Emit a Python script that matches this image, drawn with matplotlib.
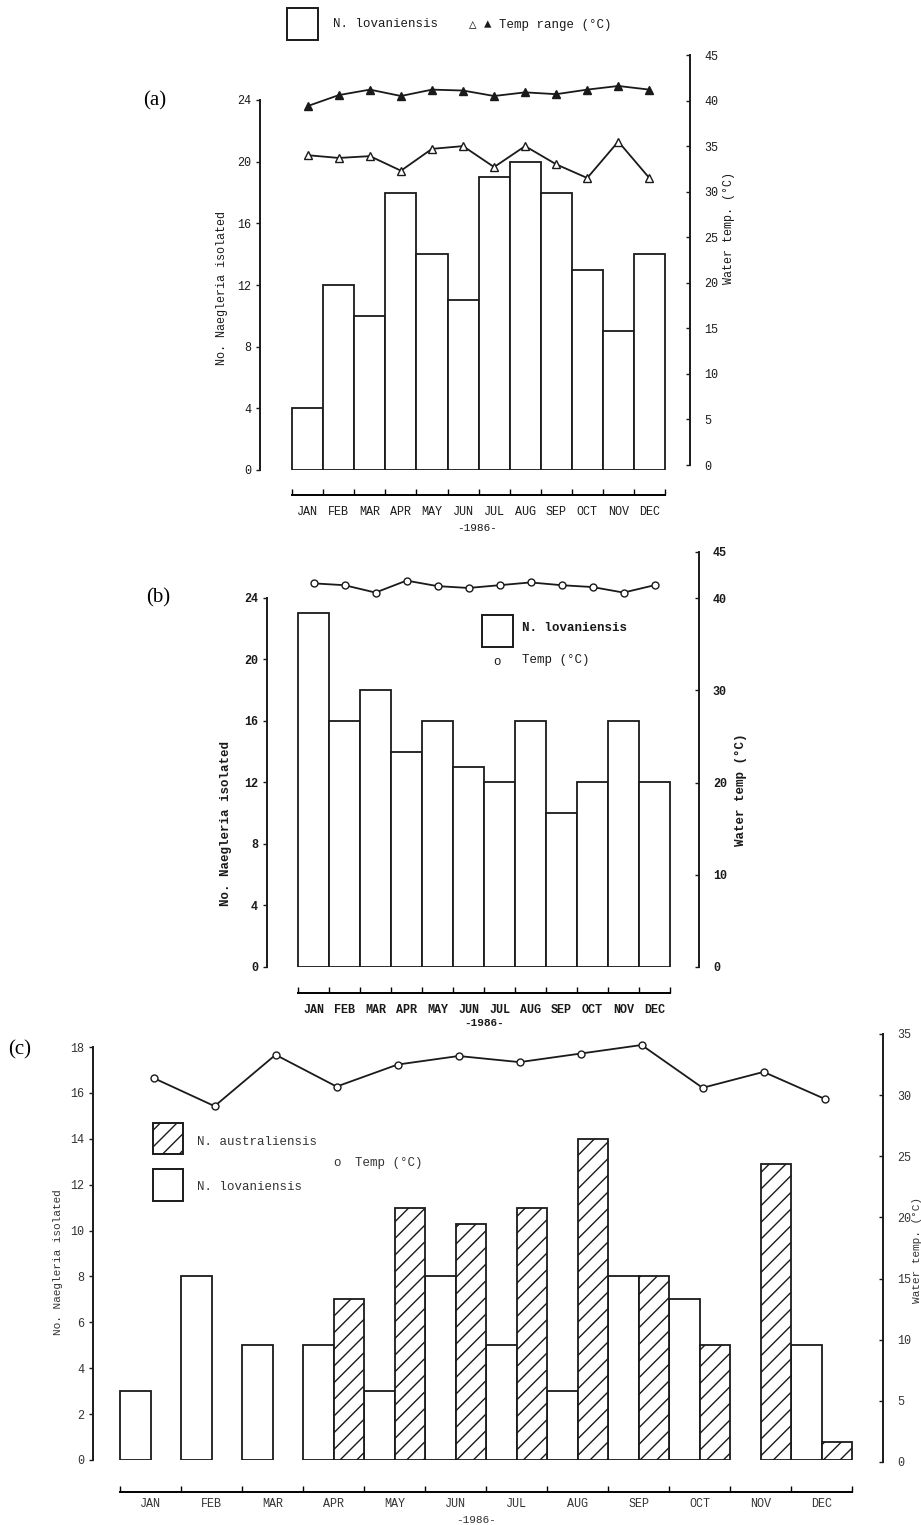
#!/usr/bin/env python3
import numpy as np
import matplotlib
matplotlib.use("Agg")
import matplotlib.pyplot as plt
from matplotlib.patches import Rectangle

plt.rcParams['font.family'] = ['Liberation Mono', 'DejaVu Sans Mono', 'DejaVu Sans']
plt.rcParams['hatch.linewidth'] = 1.0

# data
months = ["JAN", "FEB", "MAR", "APR", "MAY", "JUN", "JUL", "AUG", "SEP", "OCT", "NOV", "DEC"]

# (a)
a_lov = [4, 12, 10, 18, 14, 11, 19, 20, 18, 13, 9, 14]
a_tmax = [39.4, 40.6, 41.2, 40.5, 41.2, 41.1, 40.5, 40.9, 40.7, 41.2, 41.6, 41.2]
a_tmin = [34.0, 33.7, 33.9, 32.3, 34.7, 35.0, 32.7, 35.0, 33.0, 31.5, 35.5, 31.5]

# (b)
b_lov = [23, 16, 18, 14, 16, 13, 12, 16, 10, 12, 16, 12]
b_temp = [41.6, 41.4, 40.6, 41.9, 41.3, 41.1, 41.4, 41.7, 41.4, 41.2, 40.6, 41.4]

# (c)
c_lov = [3, 8, 5, 5, 3, 8, 5, 3, 8, 7, 0, 5]
c_aus = [0, 0, 0, 7, 11, 10.3, 11, 14, 8, 5, 12.9, 0.8]
c_temp = [31.4, 29.1, 33.3, 30.7, 32.5, 33.2, 32.7, 33.4, 34.1, 30.6, 31.9, 29.7]

W, H = 921, 1525
fig = plt.figure(figsize=(W / 100, H / 100), dpi=100)
idx = np.arange(12)
LC = '#1a1a1a'
GC = '#333333'


def add_ax(left, top, right, bottom):
    return fig.add_axes([left / W, 1 - bottom / H, (right - left) / W, (bottom - top) / H])


def ftext(x, y, s, **kw):
    fig.text(x / W, 1 - y / H, s, **kw)


def frect(x0, y0, x1, y1, **kw):
    fig.patches.append(Rectangle((x0 / W, 1 - y1 / H), (x1 - x0) / W, (y1 - y0) / H,
                                 transform=fig.transFigure, figure=fig, **kw))


def style_left(ax, ymax, step, out_px, fs, weight, col, mpad):
    ax.patch.set_visible(False)
    ax.spines['top'].set_visible(False)
    ax.spines['right'].set_visible(False)
    ax.spines['left'].set_linewidth(1.4)
    ax.spines['left'].set_color(LC)
    ax.set_ylim(0, ymax)
    ax.set_yticks(np.arange(0, ymax + 0.1, step))
    ax.tick_params(axis='y', direction='out', length=3, width=1, labelsize=fs, colors=LC)
    for t in ax.get_yticklabels():
        t.set_fontweight(weight)
        t.set_color(col)
    # separate month axis under the bars (outward is in points)
    ax.spines['bottom'].set_position(('outward', out_px * 0.72))
    ax.spines['bottom'].set_bounds(-0.5, 11.5)
    ax.spines['bottom'].set_linewidth(1.4)
    ax.set_xticks(np.arange(13) - 0.5)
    ax.set_xticklabels([])
    ax.tick_params(axis='x', which='major', direction='in', length=4, width=1)
    ax.set_xticks(idx, minor=True)
    ax.set_xticklabels(months, minor=True, fontsize=fs, fontweight=weight, color=col)
    ax.tick_params(axis='x', which='minor', length=0, pad=mpad)


def style_right(ax, xlim, ymax, ticks, fs, weight, col):
    ax.patch.set_visible(False)
    for s in ['top', 'left', 'bottom']:
        ax.spines[s].set_visible(False)
    ax.spines['right'].set_linewidth(1.4)
    ax.spines['right'].set_color(LC)
    ax.set_xlim(*xlim)
    ax.set_ylim(0, ymax)
    ax.yaxis.tick_right()
    ax.set_yticks(ticks)
    ax.set_xticks([])
    ax.tick_params(axis='y', direction='in', length=3, width=1, labelsize=fs, pad=10, colors=LC)
    for t in ax.get_yticklabels():
        t.set_fontweight(weight)
        t.set_color(col)


# ---------------- (a) ----------------
xa = (-1.54, 12.31)
axa = add_ax(260, 100, 690, 470)
axa.set_xlim(*xa)
axa.bar(idx, a_lov, width=1.0, color='white', edgecolor=LC, linewidth=1.3)
style_left(axa, 24, 4, 25, 8.5, 'normal', LC, 8)
axa2 = add_ax(260, 55, 690, 465)
style_right(axa2, xa, 45, np.arange(0, 46, 5), 8.5, 'normal', LC)
axa2.plot(idx, a_tmax, '-', marker='^', color=LC, mfc=LC, mec=LC, ms=5.5, lw=1.3)
axa2.plot(idx, a_tmin, '-', marker='^', color=LC, mfc='white', mec=LC, ms=6, lw=1.3)
ftext(222, 288, "No. Naegleria isolated", rotation=90, ha='center', va='center', fontsize=8.5, color=LC)
ftext(729, 228, "Water temp. (°C)", rotation=90, ha='center', va='center', fontsize=8.5, color=LC)
ftext(477, 528, "-1986-", ha='center', va='center', fontsize=8, color=LC)
ftext(155, 101, "(a)", ha='center', va='center', fontsize=15, family='Liberation Serif')
frect(287, 8, 318, 40, facecolor='none', edgecolor=LC, linewidth=1.4)
ftext(333, 24, "N. lovaniensis", ha='left', va='center', fontsize=9, color=LC)
ftext(469, 25, "△ ▲ Temp range (°C)", ha='left', va='center', fontsize=9, color=LC)

# ---------------- (b) ----------------
xb = (-1.5, 12.435)
axb = add_ax(267, 598, 699, 967)
axb.set_xlim(*xb)
axb.bar(idx, b_lov, width=1.0, color='white', edgecolor=LC, linewidth=1.3)
style_left(axb, 24, 4, 26, 8.5, 'bold', LC, 8)
axb2 = add_ax(267, 552, 699, 967)
style_right(axb2, xb, 45, [0, 10, 20, 30, 40, 45], 8.5, 'bold', LC)
axb2.plot(idx, b_temp, '-', marker='o', color=LC, mfc='white', mec=LC, ms=5, lw=1.3)
ftext(226, 823, "No. Naegleria isolated", rotation=90, ha='center', va='center', fontsize=9, fontweight='bold', color=LC)
ftext(741, 790, "Water temp (°C)", rotation=90, ha='center', va='center', fontsize=9, fontweight='bold', color=LC)
ftext(484, 1023, "-1986-", ha='center', va='center', fontsize=8, fontweight='bold', color=LC)
ftext(158, 598, "(b)", ha='center', va='center', fontsize=15, family='Liberation Serif')
frect(482, 615, 513, 647, facecolor='none', edgecolor=LC, linewidth=1.4)
ftext(522, 628, "N. lovaniensis", ha='left', va='center', fontsize=9, fontweight='bold', color=LC)
ftext(497, 662, "o", ha='center', va='center', fontsize=9, color=LC)
ftext(522, 660, "Temp (°C)", ha='left', va='center', fontsize=9, color=LC)

# ---------------- (c) ----------------
xc = (-0.943, 12.008)
axc = add_ax(93, 1047, 883, 1460)
axc.set_xlim(*xc)
lov_m = np.array(c_lov) > 0
aus_m = np.array(c_aus) > 0
axc.bar(idx[lov_m] - 0.25, np.array(c_lov)[lov_m], width=0.5, color='white', edgecolor=LC, linewidth=1.3)
axc.bar(idx[aus_m] + 0.25, np.array(c_aus)[aus_m], width=0.5, color='white', edgecolor=LC,
        linewidth=1.3, hatch='//')
style_left(axc, 18, 2, 32, 8.5, 'normal', GC, 4)
axc2 = add_ax(93, 1034, 883, 1462)
style_right(axc2, xc, 35, np.arange(0, 36, 5), 8.5, 'normal', GC)
axc2.plot(idx + 0.05, c_temp, '-', marker='o', color=LC, mfc='white', mec=LC, ms=5, lw=1.3)
ftext(58, 1262, "No. Naegleria isolated", rotation=90, ha='center', va='center', fontsize=8, color=GC)
ftext(917, 1250, "Water temp. (°C)", rotation=90, ha='center', va='center', fontsize=8, color=GC)
ftext(476, 1520, "-1986-", ha='center', va='center', fontsize=8, color=GC)
ftext(20, 1050, "(c)", ha='center', va='center', fontsize=15, family='Liberation Serif')
frect(153, 1123, 183, 1154, facecolor='white', edgecolor=LC, linewidth=1.4, hatch='//')
frect(153, 1169, 183, 1201, facecolor='none', edgecolor=LC, linewidth=1.4)
ftext(197, 1142, "N. australiensis", ha='left', va='center', fontsize=9, color=GC)
ftext(197, 1187, "N. lovaniensis", ha='left', va='center', fontsize=9, color=GC)
ftext(337, 1163, "o", ha='center', va='center', fontsize=9, color=GC)
ftext(355, 1163, "Temp (°C)", ha='left', va='center', fontsize=9, color=GC)

fig.savefig("out.png", dpi=100)
